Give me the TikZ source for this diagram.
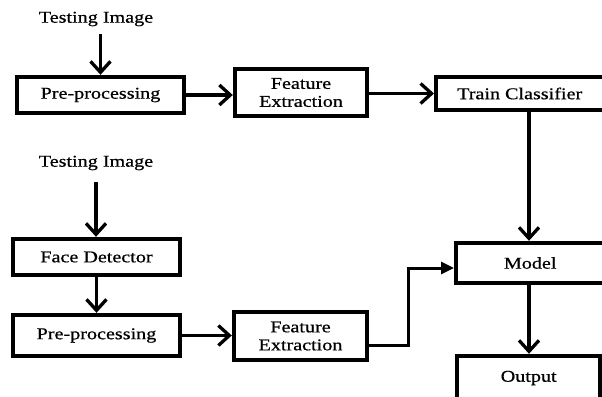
\documentclass[tikz,border=0pt]{standalone}
\usepackage{fontspec}
\setmainfont{Liberation Serif}[FakeStretch=1.22,FakeBold=0.6]
\usetikzlibrary{arrows.meta}
\begin{document}
\begin{tikzpicture}[x=1pt,y=-1pt,
  box/.style={draw=black,line width=4.4pt,fill=white,inner sep=0pt,font=\fontsize{16.5}{18}\selectfont,align=center},
  lbl/.style={inner sep=0pt,font=\fontsize{16.5}{18}\selectfont},
  conn/.style={line width=3.3pt,-{Straight Barb[length=11pt,width=20pt,line width=3.3pt]}},
  connf/.style={line width=3pt,-{Triangle[length=13pt,width=12pt]}},
  plain/.style={line width=3.3pt}]
\useasboundingbox (0,0) rectangle (602,396);
\fill[white] (0,0) rectangle (602,396);
% top row
\node[lbl] (ti1) at (96,19) {Testing Image};
\node[box,minimum width=167pt,minimum height=36pt] (pp1) at (100.5,95) {Pre-processing};
\node[box,minimum width=132pt,minimum height=47pt] (fe1) at (301,92.5) {Feature\\Extraction};
\node[box,minimum width=185pt,minimum height=33pt,anchor=west] (tc) at (434,93.5) {\hspace*{-18pt}Train Classifier};
% model / output
\node[box,minimum width=150pt,minimum height=40pt,anchor=west] (model) at (454,263) {\hspace*{-2pt}Model};
\node[box,minimum width=143pt,minimum height=44pt,anchor=west] (out) at (455,378) {Output};
% bottom part
\node[lbl] (ti2) at (96,163) {Testing Image};
\node[box,minimum width=167pt,minimum height=36pt] (fd) at (96.5,257) {Face Detector};
\node[box,minimum width=167pt,minimum height=41pt] (pp2) at (96.5,335.5) {Pre-processing};
\node[box,minimum width=133pt,minimum height=48pt] (fe2) at (300.5,336) {Feature\\Extraction};
% connectors
\draw[conn] (pp1.north |- ti1.south) ++(0,8) -- (pp1.north);
\draw[conn] (pp1.east) -- (pp1.east -| fe1.west);
\draw[conn] (fe1.east |- tc.west) -- (tc.west);
\draw[conn] (529,0 |- tc.south) -- (529,0 |- model.north);
\draw[conn] (529,0 |- model.south) -- (529,0 |- out.north);
\draw[conn] (96,0 |- ti2.south) ++(0,12) -- (fd.north -| 96,0);
\draw[conn] (fd.south) -- (pp2.north);
\draw[conn] (pp2.east) -- (pp2.east -| fe2.west);
\coordinate (fe2out) at ([yshift=-9pt]fe2.east);
\coordinate (bend1) at (408,0 |- fe2out);
\coordinate (bend2) at (408,268);
\draw[connf] (fe2out) -- (bend1) -- (bend2) -- (bend2 -| model.west);
\end{tikzpicture}
\end{document}
